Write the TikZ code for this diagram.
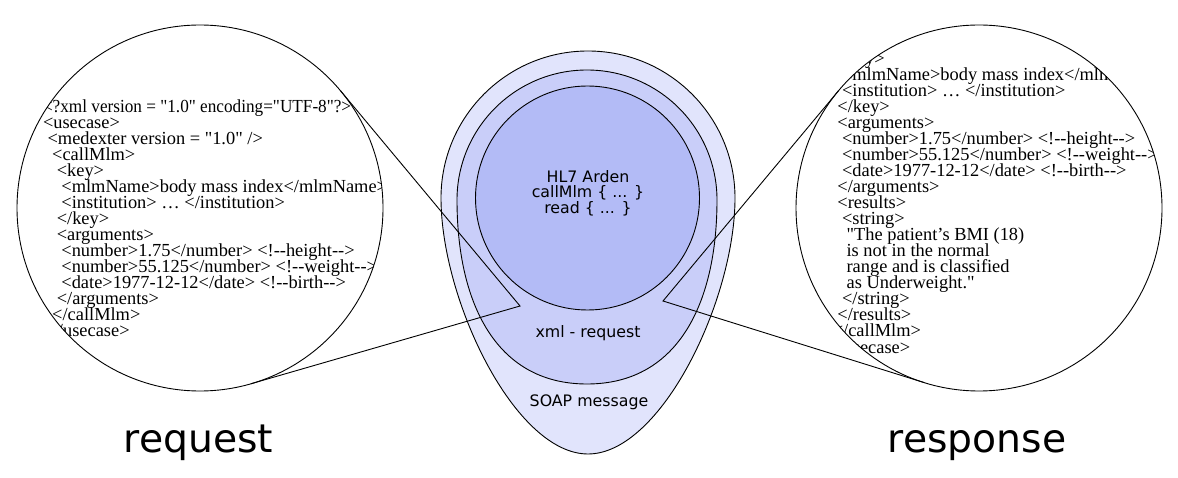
\documentclass[tikz,border=0pt]{standalone}
\usepackage{fontspec}
\usetikzlibrary{calc}
\newfontfamily\xmlfont{Liberation Serif}
\newfontfamily\dvs{DejaVu Sans}
\newcommand\dd{-\kern0pt-}
\definecolor{soapfill}{RGB}{225,228,252}
\definecolor{xmlfill}{RGB}{201,206,249}
\definecolor{corefill}{RGB}{179,187,246}
\begin{document}
\begin{tikzpicture}[x=1pt,y=-1pt,
  xml/.style={font=\xmlfont\fontsize{18.4}{16}\selectfont, inner sep=0pt, outer sep=0pt, anchor=base west},
  lens/.style={circle, draw=black, line width=0.9pt, fill=white, minimum size=366pt, inner sep=0pt, outer sep=0pt},
  shell/.style={draw=black, line width=0.9pt},
  sanslbl/.style={font=\dvs\fontsize{15.8}{15.5}\selectfont, align=center, inner sep=0pt},
  biglbl/.style={font=\dvs\fontsize{39.3}{45}\selectfont, inner sep=0pt, anchor=base},
  callout/.style={draw=black, line width=0.9pt, line join=miter}]
\useasboundingbox (0,0) rectangle (1178,478);
\fill[white] (0,0) rectangle (1178,478);
% central message shapes
\filldraw[shell, fill=soapfill] (441,198) .. controls (441,116.8) and (506.8,51) .. (588,51)
  .. controls (669.2,51) and (735,116.8) .. (735,198)
  .. controls (735,300) and (661,454) .. (588,454)
  .. controls (515,454) and (441,300) .. (441,198) -- cycle;
\filldraw[shell, fill=xmlfill] (457,200) .. controls (457,128.2) and (515.2,70) .. (587,70)
  .. controls (658.8,70) and (717,128.2) .. (717,200)
  .. controls (717,300) and (680,384) .. (587,384)
  .. controls (494,384) and (457,300) .. (457,200) -- cycle;
\node[circle, draw=black, line width=0.9pt, fill=corefill, minimum size=224pt, inner sep=0pt] (core) at (587.5,198) {};
\node[sanslbl] (arden) at (588,193) {HL7 Arden\\callMlm \{ ... \}\\read \{ ... \}};
\node[sanslbl] (xmlreq) at (588,333) {xml - request};
\node[sanslbl] (soap) at (589,402) {SOAP message};
% lenses
\node[lens] (lensL) at (200,208) {};
\node[lens] (lensR) at (979,208) {};
\begin{scope}
\clip (200,208) circle[radius=183pt];
\node[xml] (l0) at (43,112.5) {\scalebox{0.935}[1]{<?xml version = "1.0" encoding="UTF-8"?>}};
\node[xml] (l1) at (43,128.5) {<usecase>};
\node[xml] (l2) at (47.6,144.5) {<medexter version = "1.0" />};
\node[xml] (l3) at (52.2,160.5) {<callMlm>};
\node[xml] (l4) at (56.8,176.5) {<key>};
\node[xml] (l5) at (61.4,192.5) {<mlmName>body mass index</mlmName>};
\node[xml] (l6) at (61.4,208.5) {<institution> … </institution>};
\node[xml] (l7) at (56.8,224.5) {</key>};
\node[xml] (l8) at (56.8,240.5) {<arguments>};
\node[xml] (l9) at (61.4,256.5) {<number>1.75</number> <!\dd height\dd>};
\node[xml] (l10) at (61.4,272.5) {<number>55.125</number> <!\dd weight\dd>};
\node[xml] (l11) at (61.4,288.5) {<date>1977-12-12</date> <!\dd birth\dd>};
\node[xml] (l12) at (56.8,304.5) {</arguments>};
\node[xml] (l13) at (52.2,320.5) {</callMlm>};
\node[xml] (l14) at (47.6,336.5) {</usecase>};
\end{scope}
\begin{scope}
\clip (979,208) circle[radius=183pt];
\node[xml] (r4) at (837.4,65) {<key>};
\node[xml] (r5) at (842,81) {<mlmName>body mass index</mlmName>};
\node[xml] (r6) at (842,97) {<institution> … </institution>};
\node[xml] (r7) at (837.4,113) {</key>};
\node[xml] (r8) at (837.4,129) {<arguments>};
\node[xml] (r9) at (842,145) {<number>1.75</number> <!\dd height\dd>};
\node[xml] (r10) at (842,161) {<number>55.125</number> <!\dd weight\dd>};
\node[xml] (r11) at (842,177) {<date>1977-12-12</date> <!\dd birth\dd>};
\node[xml] (r12) at (837.4,193) {</arguments>};
\node[xml] (r13) at (837.4,209) {<results>};
\node[xml] (r14) at (842,225) {<string>};
\node[xml] (r15) at (846.6,241) {"The patient’s BMI (18)};
\node[xml] (r16) at (846.6,257) {is not in the normal};
\node[xml] (r17) at (846.6,273) {range and is classified};
\node[xml] (r18) at (846.6,289) {as Underweight."};
\node[xml] (r19) at (842,305) {</string>};
\node[xml] (r20) at (837.4,321) {</results>};
\node[xml] (r21) at (832.8,337) {</callMlm>};
\node[xml] (r22) at (828.2,353) {</usecase>};
\end{scope}
% callout lines
\coordinate (pL) at (520,306);
\coordinate (pR) at (663,301);
\draw[callout] (tangent cs:node=lensL,point={(pL)},solution=1) -- (pL) -- (tangent cs:node=lensL,point={(pL)},solution=2);
\draw[callout] (tangent cs:node=lensR,point={(pR)},solution=1) -- (pR) -- (tangent cs:node=lensR,point={(pR)},solution=2);
% labels
\node[biglbl] (req) at (198.5,452) {request};
\node[biglbl] (resp) at (977,452) {response};
\end{tikzpicture}
\end{document}
